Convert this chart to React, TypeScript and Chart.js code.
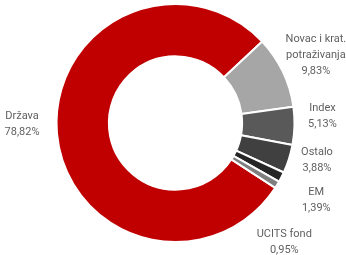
import React, { useEffect, useRef } from "react";
import { Chart, registerables } from "chart.js";

Chart.register(...registerables);

const categories = ["Država", "Novac i krat. potraživanja", "Index", "Ostalo", "EM", "UCITS fond"];
const labelLines = [["Država", "78,82%"], ["Novac i krat.", "potraživanja", "9,83%"], ["Index", "5,13%"], ["Ostalo", "3,88%"], ["EM", "1,39%"], ["UCITS fond", "0,95%"]];
const values = [78.82, 9.83, 5.13, 3.88, 1.39, 0.95];
const colors = ["#c00000", "#a6a6a6", "#595959", "#404040", "#262626", "#7f7f7f"];
// label offsets (dx, dy) relative to the point just outside each arc's mid-angle
const labelOffsets = [[-15, -11], [15, -7.5], [8, -10], [9, -4.5], [17, 14], [-10, 47]];

const labelPlugin = {
  id: "outLabels",
  afterDraw(chart: any) {
    const ctx = chart.ctx;
    const meta = chart.getDatasetMeta(0);
    ctx.save();
    ctx.font = "11px Roboto";
    ctx.fillStyle = "#5f5f5f";
    ctx.textAlign = "center";
    ctx.textBaseline = "middle";
    meta.data.forEach((arc: any, i: number) => {
      const mid = (arc.startAngle + arc.endAngle) / 2;
      const r = arc.outerRadius + 20;
      const x = arc.x + Math.cos(mid) * r + labelOffsets[i][0];
      const y = arc.y + Math.sin(mid) * r + labelOffsets[i][1];
      const lines = labelLines[i];
      const lh = 16;
      lines.forEach((t, j) => {
        ctx.fillText(t, x, y + (j - (lines.length - 1) / 2) * lh);
      });
    });
    ctx.restore();
  },
};

export default function App() {
  const ref = useRef<HTMLCanvasElement>(null);
  useEffect(() => {
    const chart = new Chart(ref.current!, {
      type: "doughnut",
      data: {
        labels: categories,
        datasets: [{ data: values, backgroundColor: colors, borderColor: "#ffffff", borderWidth: 2 }],
      },
      options: {
        animation: false,
        responsive: false,
        rotation: 123,
        cutout: "56%",
        layout: { padding: { left: 5, right: 0, top: 3, bottom: 12 } },
        plugins: { legend: { display: false }, tooltip: { enabled: false } },
      },
      plugins: [labelPlugin],
    });
    return () => chart.destroy();
  }, []);
  return (
    <div style={{ position: "fixed", left: 0, top: 0, width: 346, height: 255, background: "#fff" }}>
      <canvas ref={ref} width={346} height={255} />
    </div>
  );
}
